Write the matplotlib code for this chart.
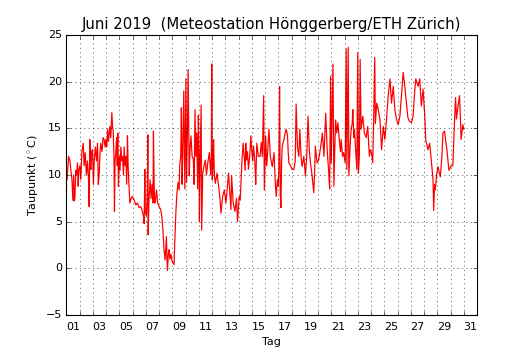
import numpy as np
import matplotlib
matplotlib.use("Agg")
import matplotlib.pyplot as plt

# time in days since 1 June 2019 00:00, dew point in degC
t_day = [
0.00,0.05,0.10,0.18,0.28,0.35,0.43,0.50,0.56,0.60,0.65,0.72,0.78,0.85,0.90,0.95,1.03,
1.10,1.18,1.28,1.35,1.43,1.52,1.60,1.68,1.73,1.78,1.83,1.86,1.92,1.98,
2.05,2.11,2.20,2.28,2.36,2.42,2.49,2.55,2.61,2.70,2.78,2.86,2.93,2.99,
3.06,3.12,3.19,3.29,3.36,3.44,3.50,3.54,3.60,3.64,3.68,3.74,3.80,3.85,3.89,3.94,4.00,
4.06,4.12,4.20,4.25,4.32,4.37,4.44,4.50,4.56,4.62,4.67,4.73,4.80,4.90,4.99,
5.13,5.25,5.38,5.50,5.63,5.75,5.85,5.88,5.93,5.97,6.05,6.12,6.16,6.18,6.25,6.33,6.40,6.48,
6.55,6.58,6.64,6.68,6.75,6.81,6.90,7.01,
7.13,7.22,7.31,7.38,7.46,7.52,7.56,7.60,7.64,7.70,7.76,7.82,7.90,7.96,8.05,8.14,
8.18,8.27,8.35,8.44,8.52,8.56,8.64,8.69,8.74,8.80,8.87,8.95,9.03,9.08,9.15,9.20,9.28,
9.35,9.41,9.50,9.59,9.65,9.72,9.78,9.85,9.92,9.97,10.02,10.05,10.10,10.18,10.22,10.30,
10.40,10.50,10.58,10.68,10.80,10.90,10.95,10.98,11.02,11.08,11.12,11.18,11.25,11.38,
11.50,11.60,11.68,11.80,11.93,12.05,12.15,12.25,12.35,12.43,12.48,12.60,12.73,12.85,
12.93,13.05,13.13,13.20,13.25,13.35,13.43,13.50,13.55,13.60,13.68,13.75,13.85,13.93,
14.00,14.07,14.13,14.20,14.25,14.30,14.38,14.50,14.63,14.72,14.80,14.90,14.95,15.05,
15.12,15.18,15.30,15.40,15.55,15.68,15.78,15.85,15.93,16.00,16.05,16.10,16.15,16.20,
16.25,16.30,16.43,16.52,16.60,16.70,16.75,16.80,16.92,17.05,17.18,17.28,17.35,17.45,
17.55,17.63,17.72,17.80,17.93,18.05,18.15,18.25,18.35,18.43,18.55,18.68,18.75,18.80,
18.93,19.05,19.20,19.33,19.45,19.58,19.70,19.80,19.88,19.95,20.00,20.13,20.20,20.27,
20.33,20.42,20.50,20.63,20.70,20.75,20.85,20.93,21.05,21.13,21.18,21.28,21.33,21.42,
21.50,21.58,21.63,21.70,21.75,21.85,21.93,22.00,22.05,22.12,22.18,22.25,22.38,22.50,
22.63,22.75,22.88,22.95,23.05,23.13,23.20,23.28,23.33,23.43,23.55,23.68,23.80,23.93,
24.05,24.15,24.30,24.43,24.55,24.68,24.80,24.92,25.05,25.18,25.30,25.43,25.55,25.68,
25.78,25.88,26.05,26.18,26.30,26.38,26.55,26.68,26.80,26.93,27.05,27.13,27.30,27.43,
27.55,27.68,27.73,27.80,27.85,27.95,28.05,28.23,28.35,28.43,28.55,28.65,28.73,28.88,
29.05,29.18,29.28,29.38,29.45,29.55,29.68,29.75,29.80,29.93,30.00,
]
taupunkt = [
10.0,9.5,10.5,12.0,11.5,10.5,9.5,7.3,10.0,7.2,7.5,10.5,10.0,11.3,8.8,10.5,11.0,
9.5,12.5,13.4,11.0,12.4,10.0,11.5,9.5,6.6,13.8,11.0,10.6,12.5,12.7,
9.0,11.6,13.0,11.5,13.4,9.0,10.2,12.5,13.4,12.5,14.0,13.8,13.0,13.8,
13.0,14.9,13.6,15.2,14.0,16.7,15.0,14.9,12.0,6.1,11.5,12.4,14.0,11.0,14.5,8.8,12.0,
10.5,13.0,11.5,12.0,10.0,13.0,11.0,12.0,9.0,14.2,11.0,9.0,7.0,7.5,7.7,
7.3,6.8,7.0,6.5,6.6,6.1,5.5,4.8,10.6,6.0,5.6,8.0,14.3,3.6,7.5,9.5,7.5,9.0,
7.0,14.7,8.5,7.0,7.5,8.4,7.0,6.6,
6.3,5.5,3.8,2.0,0.9,2.5,3.4,1.0,-0.2,1.5,2.0,1.0,1.5,0.9,0.6,0.4,
2.4,5.9,8.0,9.2,8.4,11.0,12.0,17.2,9.0,12.5,19.0,8.5,20.3,9.2,15.0,21.3,9.9,
13.0,14.2,12.0,11.7,9.0,17.0,12.0,14.5,8.5,16.4,12.0,5.0,11.0,17.5,4.1,10.2,
11.0,11.6,10.0,11.3,12.4,10.0,12.0,21.9,9.5,11.0,13.8,10.0,9.1,10.2,
8.8,7.5,5.9,7.7,8.4,7.0,8.5,10.2,8.0,6.3,9.9,7.0,6.1,7.5,
5.0,7.7,7.3,9.5,11.3,13.4,12.0,10.5,13.4,11.6,12.5,10.6,12.0,14.2,
12.7,11.5,13.1,12.0,10.9,9.0,13.4,12.0,12.0,13.5,12.0,18.5,8.4,14.2,
11.0,12.0,14.9,12.0,10.9,12.4,9.0,7.7,9.5,8.8,11.0,19.5,8.0,6.5,
11.0,13.1,13.8,14.5,14.9,14.2,12.5,11.3,11.0,10.6,10.6,11.5,17.6,13.0,
12.0,14.9,12.0,10.9,12.0,9.9,12.0,16.3,12.5,11.3,10.0,8.1,10.5,13.1,
11.3,11.6,13.0,14.5,12.0,16.6,12.5,10.5,8.5,20.6,11.3,21.9,8.8,13.0,
15.9,14.5,15.6,13.4,12.5,13.8,12.0,12.4,11.3,23.5,10.6,23.7,9.9,13.0,
14.9,15.5,17.0,14.0,14.9,12.5,10.6,23.1,10.2,12.0,22.4,14.9,16.3,14.5,
14.0,15.2,12.0,12.7,12.3,11.3,15.9,22.6,15.5,17.7,17.0,15.9,12.7,15.2,
13.8,15.6,18.5,20.3,17.7,19.5,17.0,16.0,15.4,16.3,18.5,21.0,19.5,17.7,
16.2,15.8,15.6,16.3,19.0,20.3,19.5,20.3,17.4,19.2,16.5,13.8,12.7,13.4,
11.6,9.5,6.2,9.0,8.4,10.0,10.9,9.8,12.0,14.5,14.7,13.5,12.7,10.5,
11.0,11.0,15.0,18.3,16.0,17.2,18.5,16.0,13.8,15.4,14.9,
]
day_labels = ["01","03","05","07","09","11","13","15","17","19","21","23","25","27","29","31"]
y_ticks = [-5, 0, 5, 10, 15, 20, 25]

plt.style.use("classic")
plt.rcParams["font.size"] = 10
plt.rcParams["font.family"] = ["DejaVu Sans"]

fig = plt.figure(figsize=(6.625, 4.375), dpi=80)
ax = fig.add_subplot(111)
ax.plot(t_day, taupunkt, color="r", lw=1.1)

ax.set_xlim(0, 31)
ax.set_ylim(-5, 25)
ax.set_yticks(y_ticks)
ax.set_xticks(np.arange(len(day_labels)) * 2 + 0.5)
ax.set_xticklabels(day_labels)
ax.set_xticks(np.arange(1, 31), minor=True)
ax.tick_params(axis="x", which="major", length=0, pad=6)
ax.tick_params(axis="x", which="minor", length=4)
ax.grid(True, which="minor", axis="x", color="k", linestyle=":", linewidth=0.5)
ax.grid(True, which="major", axis="y", color="k", linestyle=":", linewidth=0.5)
ax.set_axisbelow(False)

ax.set_title("Juni 2019  (Meteostation Hönggerberg/ETH Zürich)", fontsize=13.4)
ax.set_xlabel("Tag")
ax.set_ylabel(r"Taupunkt ($^\circ$C)")

fig.savefig("out.png", dpi=80, facecolor="white")
